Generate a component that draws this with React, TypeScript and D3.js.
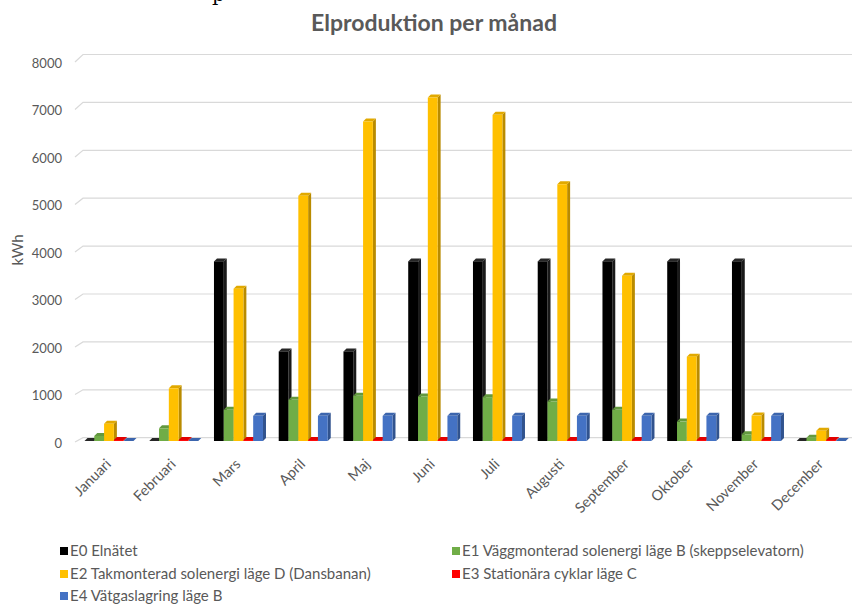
import React from "react";
import * as d3 from "d3";

const months = ["Januari","Februari","Mars","April","Maj","Juni","Juli","Augusti","September","Oktober","November","December"];
const seriesNames = [
  "E0  Elnätet",
  "E1 Väggmonterad solenergi läge B (skeppselevatorn)",
  "E2 Takmonterad solenergi läge D (Dansbanan)",
  "E3 Stationära cyklar läge C",
  "E4 Vätgaslagring läge B",
];
const seriesColors = ["#000000", "#70ad47", "#ffc000", "#ff0000", "#4472c4"];
const e0 = [0, 0, 3750, 1870, 1870, 3750, 3750, 3750, 3750, 3750, 3750, 0];
const e1 = [105, 265, 650, 860, 945, 930, 915, 825, 650, 405, 140, 70];
const e2 = [360, 1100, 3180, 5120, 6670, 7170, 6810, 5360, 3450, 1760, 530, 215];
const e3 = [20, 20, 20, 20, 20, 20, 20, 20, 20, 20, 20, 20];
const e4 = [0, 0, 525, 525, 525, 525, 525, 525, 525, 525, 525, 0];
const seriesValues = [e0, e1, e2, e3, e4];
const yTicks = [0, 1000, 2000, 3000, 4000, 5000, 6000, 7000, 8000];

const W = 852, H = 605;
const FONT = "Lato, 'Open Sans', sans-serif";
const TXT = "#595959";

export default function App() {
  const x0 = d3.scaleBand<string>().domain(months).range([76.6, 853.6]).paddingInner(0.243).paddingOuter(0.1216);
  const x1 = d3.scaleBand<number>().domain(d3.range(5)).range([0, x0.bandwidth()]);
  const yFront = d3.scaleLinear().domain([0, 8000]).range([441, 441 - 8000 * 0.0479]);
  const yGrid = d3.scaleLinear().domain([0, 8000]).range([437.7, 437.7 - 8000 * 0.0479]);
  const yLabel = d3.scaleLinear().domain([0, 8000]).range([443, 63]);
  const d = 3;
  const w = x1.bandwidth();

  const bars: React.ReactNode[] = [];
  months.forEach((m, i) => {
    seriesValues.forEach((vals, s) => {
      const x = (x0(m) as number) + (x1(s) as number);
      const yt = yFront(vals[i]);
      const yb = yFront(0);
      const c = d3.color(seriesColors[s])!;
      const side = s === 0 ? "#1a1a1a" : c.darker(0.9).toString();
      const top = s === 0 ? "#262626" : c.darker(0.35).toString();
      bars.push(
        <g key={`${m}-${s}`}>
          <polygon points={`${x + w},${yb} ${x + w + d},${yb - d} ${x + w + d},${yt - d} ${x + w},${yt}`} fill={side} />
          <polygon points={`${x},${yt} ${x + w},${yt} ${x + w + d},${yt - d} ${x + d},${yt - d}`} fill={top} />
          <rect x={x} y={yt} width={w} height={Math.max(0, yb - yt)} fill={seriesColors[s]} />
        </g>
      );
    });
  });

  const legendPos = [
    [60, 551], [452, 551], [60, 574], [452, 574], [60, 596],
  ];

  return (
    <svg width={W} height={H} style={{ position: "absolute", left: 0, top: 0, background: "#fff" }}>
      <text x={212} y={1} fontFamily="'DejaVu Serif', serif" fontSize={20} fill="#000">p</text>
      <text x={434} y={31} textAnchor="middle" fontFamily={FONT} fontWeight={700} fontSize={23} fill={TXT}>Elproduktion per månad</text>
      {yTicks.map((t) => (
        <g key={t}>
          <polyline points={`75,${yLabel(t) - 1} 83,${yGrid(t)} ${W},${yGrid(t)}`} fill="none" stroke="#d9d9d9" strokeWidth={1.2} />
          <text x={62} y={yLabel(t)} dy="0.35em" textAnchor="end" fontFamily={FONT} fontSize={13} fill={TXT}>{t}</text>
        </g>
      ))}
      <text transform="translate(23,250) rotate(-90)" textAnchor="middle" fontFamily={FONT} fontSize={15} fill={TXT}>kWh</text>
      {bars}
      {months.map((m) => {
        const cx = (x0(m) as number) + x0.bandwidth() / 2 + 3;
        return (
          <text key={m} transform={`translate(${cx},465) rotate(-45)`} textAnchor="end" fontFamily={FONT} fontSize={14.5} fill={TXT}>{m}</text>
        );
      })}
      {seriesNames.map((n, s) => (
        <g key={n} transform={`translate(${legendPos[s][0]},${legendPos[s][1]})`}>
          <rect x={0} y={-4} width={8} height={8} fill={seriesColors[s]} />
          <text x={10} y={0} dy="0.35em" fontFamily={FONT} fontSize={15} fill={TXT}>{n}</text>
        </g>
      ))}
    </svg>
  );
}
